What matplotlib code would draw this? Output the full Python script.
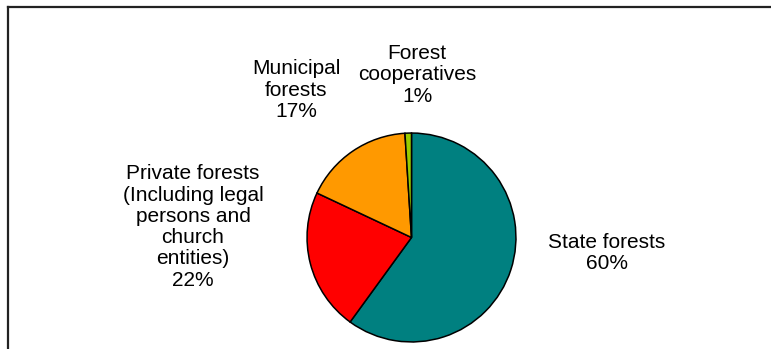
import matplotlib
matplotlib.use("Agg")
import matplotlib.pyplot as plt
from matplotlib.lines import Line2D

# ── Data ──────────────────────────────────────────────────────────────────────
categories = ["State forests", "Private forests\n(Including legal\npersons and\nchurch\nentities)",
              "Municipal\nforests", "Forest\ncooperatives"]
shares = [60, 22, 17, 1]
colors = ["#008080", "#FF0000", "#FF9900", "#99CC00"]

# label centres in pixels (x, y from top)
label_pos = [(607, 253), (193, 227), (296, 90), (417, 75)]

W, H = 771, 349
plt.rcParams["font.family"] = ["Liberation Sans", "DejaVu Sans"]

fig = plt.figure(figsize=(W / 100, H / 100), dpi=100)

# ── Pie ───────────────────────────────────────────────────────────────────────
cx, cy, r = 411.5, 237.5, 105.5
ax = fig.add_axes([(cx - r) / W, (H - cy - r) / H, 2 * r / W, 2 * r / H])
ax.pie(shares, colors=colors, startangle=90, counterclock=False, radius=1,
       wedgeprops=dict(edgecolor="black", linewidth=1.1))
ax.set_xlim(-1.01, 1.01)
ax.set_ylim(-1.01, 1.01)
ax.set_aspect("equal")
ax.axis("off")

# ── Labels ────────────────────────────────────────────────────────────────────
for cat, val, (lx, ly) in zip(categories, shares, label_pos):
    fig.text(lx / W, 1 - ly / H, f"{cat}\n{val}%", ha="center", va="center",
             multialignment="center", fontsize=15, linespacing=1.15, color="black")

# ── Frame (top and left border of the chart area) ────────────────────────────
fig.add_artist(Line2D([8 / W, 1], [1 - 7 / H, 1 - 7 / H], color="#222222", lw=1.6,
                      transform=fig.transFigure))
fig.add_artist(Line2D([8 / W, 8 / W], [0, 1 - 7 / H], color="#222222", lw=1.6,
                      transform=fig.transFigure))

fig.savefig("out.png", dpi=100)
